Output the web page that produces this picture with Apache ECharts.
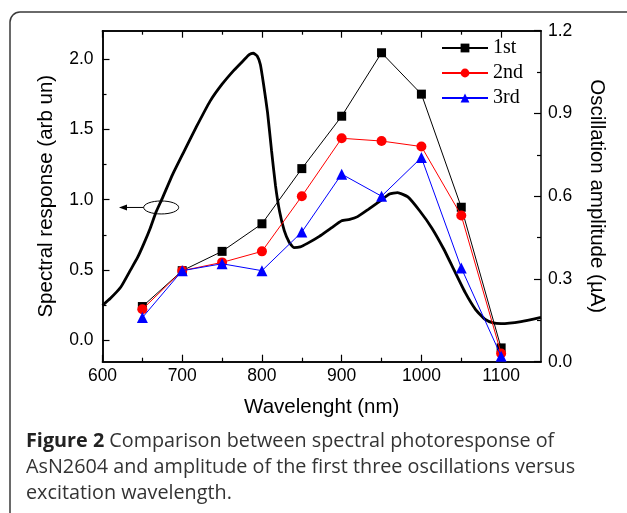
<!DOCTYPE html>
<html>
<head>
<meta charset="utf-8">
<script src="https://cdn.jsdelivr.net/npm/echarts@6/dist/echarts.min.js"></script>
<style>
html,body{margin:0;padding:0;background:#fff;}
#chart{width:627px;height:513px;}
</style>
</head>
<body>
<div id="chart"></div>
<script>
// ---- data ----
const wavelengths = [650, 700, 750, 800, 850, 900, 950, 1000, 1050, 1100];
const first  = [0.20, 0.33, 0.40, 0.50, 0.70, 0.89, 1.12, 0.97, 0.56, 0.05];
const second = [0.19, 0.33, 0.36, 0.40, 0.60, 0.81, 0.80, 0.78, 0.53, 0.03];
const third  = [0.16, 0.33, 0.355, 0.33, 0.47, 0.68, 0.60, 0.74, 0.34, 0.02];

const spectralX = [600, 610, 623, 635, 644, 652, 660, 667, 675, 688, 702, 718, 735, 750, 765, 777, 784, 789, 794, 798, 802, 807, 812, 817, 822, 828, 834, 840, 848, 857, 872, 887, 900, 910, 920, 933, 948, 960, 970, 983, 998, 1013, 1028, 1041, 1055, 1068, 1080, 1090, 1100, 1125, 1150];
const spectralY = [0.25, 0.30, 0.38, 0.50, 0.59, 0.69, 0.80, 0.91, 1.01, 1.18, 1.34, 1.52, 1.70, 1.82, 1.92, 1.99, 2.03, 2.04, 2.02, 1.96, 1.82, 1.62, 1.35, 1.10, 0.92, 0.78, 0.70, 0.66, 0.665, 0.69, 0.74, 0.80, 0.85, 0.86, 0.88, 0.93, 0.99, 1.04, 1.05, 1.02, 0.92, 0.80, 0.65, 0.50, 0.34, 0.22, 0.15, 0.125, 0.12, 0.135, 0.165];

const xMajorTicks = [600, 700, 800, 900, 1000, 1100];
const xMinorTicks = [650, 750, 850, 950, 1050];
const leftMajorTicks = [0, 0.5, 1.0, 1.5, 2.0];
const leftMinorTicks = [0.25, 0.75, 1.25, 1.75];
const seriesNames = ['1st', '2nd', '3rd'];
const annotationPoint = [673.6, 0.945];
const arrowTip = [620.7, 0.945];
const captionLines = ['Comparison between spectral photoresponse of', 'AsN2604 and amplitude of the first three oscillations versus', 'excitation wavelength.'];

const X_MIN = 600, X_MAX = 1150, YL_MIN = -0.15, YL_MAX = 2.2;
const AX = '#000';
const sans = 'Liberation Sans, Arial, sans-serif';
const TICK_FS = 17.5, NAME_FS = 20.5;

function xAxisCfg(pos, ticks, len, showLabel, name) {
  return {
    type: 'value', position: pos, min: X_MIN, max: X_MAX,
    axisLine: {show: true, onZero: false, lineStyle: {color: AX, width: 1.5}},
    axisTick: {show: true, inside: true, length: len, customValues: ticks, lineStyle: {color: AX, width: 1.2}},
    axisLabel: showLabel ? {show: true, customValues: ticks, color: '#000', fontSize: TICK_FS, fontFamily: sans, margin: 5, formatter: v => String(v)} : {show: false},
    splitLine: {show: false},
    name: name || '', nameLocation: 'middle', nameGap: 35,
    nameTextStyle: {color: '#000', fontSize: NAME_FS, fontFamily: sans}
  };
}
function yLeftCfg(ticks, len, showLabel, name) {
  return {
    type: 'value', position: 'left', min: YL_MIN, max: YL_MAX,
    axisLine: {show: true, onZero: false, lineStyle: {color: AX, width: 1.5}},
    axisTick: {show: true, inside: true, length: len, customValues: ticks, lineStyle: {color: AX, width: 1.2}},
    axisLabel: showLabel ? {show: true, customValues: ticks, color: '#000', fontSize: TICK_FS, fontFamily: sans, margin: 9, formatter: v => v.toFixed(1)} : {show: false},
    splitLine: {show: false},
    name: name || '', nameLocation: 'middle', nameGap: 46, nameRotate: 90,
    nameTextStyle: {color: '#000', fontSize: NAME_FS, fontFamily: sans}
  };
}

const chart = echarts.init(document.getElementById('chart'), null, {renderer: 'canvas'});

const option = {
  backgroundColor: '#fff',
  animation: false,
  grid: {left: 102.5, right: 86, top: 30.7, bottom: 151.3, containLabel: false},
  legend: {
    data: seriesNames, orient: 'vertical', left: 436, top: 33,
    itemWidth: 46, itemHeight: 11, itemGap: 5,
    textStyle: {color: '#000', fontSize: 20, fontFamily: 'Liberation Serif, Times New Roman, serif', lineHeight: 20}
  },
  xAxis: [
    xAxisCfg('bottom', xMajorTicks, 7, true, 'Wavelenght (nm)'),
    xAxisCfg('bottom', xMinorTicks, 4, false),
    xAxisCfg('top', xMajorTicks, 7, false),
    xAxisCfg('top', xMinorTicks, 4, false)
  ],
  yAxis: [
    yLeftCfg(leftMajorTicks, 7, true, 'Spectral response (arb un)'),
    {
      type: 'value', position: 'right', min: 0, max: 1.2, interval: 0.3,
      axisLine: {show: true, onZero: false, lineStyle: {color: AX, width: 1.5}},
      axisTick: {show: true, inside: true, length: 7, lineStyle: {color: AX, width: 1.2}},
      minorTick: {show: true, splitNumber: 2, length: 4, lineStyle: {color: AX, width: 1.2}},
      axisLabel: {color: '#000', fontSize: TICK_FS, fontFamily: sans, margin: 7, formatter: v => v.toFixed(1)},
      splitLine: {show: false},
      name: 'Oscillation amplitude (\u00b5A)', nameLocation: 'middle', nameGap: 45, nameRotate: -90,
      nameTextStyle: {color: '#000', fontSize: NAME_FS, fontFamily: sans}
    },
    yLeftCfg(leftMinorTicks, 4, false)
  ],
  series: [
    {
      name: 'spectral', type: 'line', xAxisIndex: 0, yAxisIndex: 0,
      data: spectralX.map((x, i) => [x, spectralY[i]]),
      showSymbol: false, symbol: 'none', smooth: 0.15,
      lineStyle: {color: '#000', width: 2.8}, z: 2
    },
    {
      name: seriesNames[0], type: 'line', xAxisIndex: 0, yAxisIndex: 1,
      data: wavelengths.map((x, i) => [x, first[i]]),
      symbol: 'rect', symbolSize: 9,
      itemStyle: {color: '#000'}, lineStyle: {color: '#000', width: 1}, z: 3
    },
    {
      name: seriesNames[1], type: 'line', xAxisIndex: 0, yAxisIndex: 1,
      data: wavelengths.map((x, i) => [x, second[i]]),
      symbol: 'circle', symbolSize: 10,
      itemStyle: {color: '#ff0000'}, lineStyle: {color: '#ff0000', width: 1}, z: 4
    },
    {
      name: seriesNames[2], type: 'line', xAxisIndex: 0, yAxisIndex: 1,
      data: wavelengths.map((x, i) => [x, third[i]]),
      symbol: 'triangle', symbolSize: 11,
      itemStyle: {color: '#0000ff'}, lineStyle: {color: '#0000ff', width: 1}, z: 5
    }
  ],
  graphic: [
    {
      id: 'frame', type: 'rect', silent: true, z: 0,
      shape: {x: 10, y: 12, width: 640, height: 540, r: 10},
      style: {fill: 'none', stroke: '#3a3a3a', lineWidth: 1.5}
    },
    {
      id: 'caption', type: 'text', left: 26, top: 428.5, z: 10,
      style: {
        text: '{b|Figure 2} ' + captionLines.join('\n'),
        fontFamily: 'Open Sans, sans-serif', fontSize: 19.8, lineHeight: 26, fill: '#333',
        rich: {
          b: {fontFamily: 'Open Sans, sans-serif', fontSize: 19.8, fontWeight: 'bold', lineHeight: 26, fill: '#222'}
        }
      }
    }
  ]
};
chart.setOption(option);

// annotation (ellipse + arrow pointing to the left axis), placed in data coordinates
const c = chart.convertToPixel({xAxisIndex: 0, yAxisIndex: 0}, annotationPoint);
const t = chart.convertToPixel({xAxisIndex: 0, yAxisIndex: 0}, arrowTip);
const rx = 17.5, ry = 6.5;
chart.setOption({
  graphic: [
    {id: 'ell', type: 'ellipse', silent: true, z: 20,
     shape: {cx: c[0], cy: c[1], rx: rx, ry: ry},
     style: {fill: 'none', stroke: '#000', lineWidth: 1}},
    {id: 'arrowLine', type: 'line', silent: true, z: 20,
     shape: {x1: c[0] - rx, y1: c[1], x2: t[0] + 6, y2: t[1]},
     style: {stroke: '#000', lineWidth: 1}},
    {id: 'arrowHead', type: 'polygon', silent: true, z: 20,
     shape: {points: [[t[0], t[1]], [t[0] + 8, t[1] - 3], [t[0] + 8, t[1] + 3]]},
     style: {fill: '#000'}}
  ]
});
</script>
</body>
</html>
